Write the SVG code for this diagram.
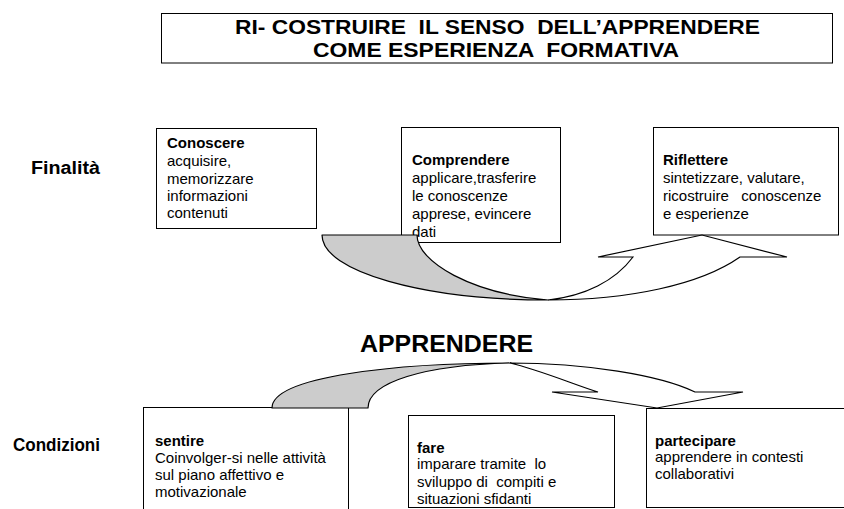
<svg xmlns="http://www.w3.org/2000/svg" width="844" height="509" viewBox="0 0 844 509">
<style>
text { font-family: "Liberation Sans", Arial, sans-serif; fill: #000; }
.t { font-size: 15px; }
.b { font-weight: bold; }
.lab { font-size: 18px; font-weight: bold; }
.ttl { font-size: 21px; font-weight: bold; }
.box { fill: #fff; stroke: #000; stroke-width: 1; }
.back { fill: #cccccc; stroke: #000; stroke-width: 1.2; stroke-linejoin: round; }
.front { fill: #fff; stroke: #000; stroke-width: 1.2; stroke-linejoin: miter; }
</style>
<rect width="844" height="509" fill="#fff"/>

<g id="title">
  <rect class="box" x="161.5" y="13.5" width="671" height="49.5"/>
  <text class="ttl" x="235" y="34" textLength="525" lengthAdjust="spacingAndGlyphs" xml:space="preserve">RI- COSTRUIRE  IL SENSO  DELL’APPRENDERE</text>
  <text class="ttl" x="313" y="57" textLength="366" lengthAdjust="spacingAndGlyphs" xml:space="preserve">COME ESPERIENZA  FORMATIVA</text>
</g>

<g id="label-finalita">
  <text class="lab" x="31" y="174" textLength="69" lengthAdjust="spacingAndGlyphs">Finalità</text>
</g>
<g id="label-condizioni">
  <text class="lab" x="13" y="451" textLength="87" lengthAdjust="spacingAndGlyphs">Condizioni</text>
</g>

<g id="conoscere">
  <rect class="box" x="156.5" y="128.5" width="160" height="100"/>
  <text class="t b" x="167" y="148">Conoscere</text>
  <text class="t" x="167" y="166">acquisire,</text>
  <text class="t" x="167" y="184">memorizzare</text>
  <text class="t" x="167" y="201">informazioni</text>
  <text class="t" x="167" y="218">contenuti</text>
</g>

<g id="comprendere">
  <rect class="box" x="401.5" y="127.5" width="159" height="115"/>
  <text class="t b" x="412" y="165">Comprendere</text>
  <text class="t" x="412" y="183">applicare,trasferire</text>
  <text class="t" x="412" y="201">le conoscenze</text>
  <text class="t" x="412" y="219">apprese, evincere</text>
  <text class="t" x="412" y="237">dati</text>
</g>

<g id="riflettere">
  <rect class="box" x="653.5" y="127.5" width="185" height="107.5"/>
  <text class="t b" x="663" y="165">Riflettere</text>
  <text class="t" x="663" y="183">sintetizzare, valutare,</text>
  <text class="t" x="663" y="201" xml:space="preserve">ricostruire   conoscenze</text>
  <text class="t" x="663" y="219">e esperienze</text>
</g>

<g id="apprendere">
  <text class="b" x="360" y="352" font-size="24" textLength="173" lengthAdjust="spacingAndGlyphs">APPRENDERE</text>
</g>

<g id="sentire">
  <rect class="box" x="143.5" y="407.5" width="205" height="120"/>
  <text class="t b" x="155" y="446">sentire</text>
  <text class="t" x="155" y="463">Coinvolger-si nelle attività</text>
  <text class="t" x="155" y="480">sul piano affettivo e</text>
  <text class="t" x="155" y="497">motivazionale</text>
</g>

<g id="fare">
  <rect class="box" x="408.5" y="415.5" width="206" height="92"/>
  <text class="t b" x="417" y="453">fare</text>
  <text class="t" x="417" y="469" xml:space="preserve">imparare tramite  lo</text>
  <text class="t" x="417" y="487" xml:space="preserve">sviluppo di  compiti e</text>
  <text class="t" x="417" y="504">situazioni sfidanti</text>
</g>

<g id="partecipare">
  <rect class="box" x="646.5" y="408.5" width="210" height="99"/>
  <text class="t b" x="655" y="446">partecipare</text>
  <text class="t" x="655" y="462">apprendere in contesti</text>
  <text class="t" x="655" y="479">collaborativi</text>
</g>

<g id="connectors">
  <g id="arrow-finalita">
    <path class="back" d="M322,235 L417,235 C417,262 472,294 548,300 C425,300 322,272 322,235 Z"/>
    <path class="front" d="M548,300 C628,300 700,285 740,257 L787,257 L702,235 L598,257 L633,257 C615,281 585,296 548,300 Z"/>
  </g>
  <g id="arrow-condizioni">
    <path class="back" d="M272,408 L368,408 C368,382 425,365 510,363 C400,363 272,376 272,408 Z"/>
    <path class="front" d="M510,363 C585,363 660,375 695,392 L743,392 L657,408 L552,392 L598,392 C575,385 540,370 510,363 Z"/>
  </g>
</g>
</svg>
